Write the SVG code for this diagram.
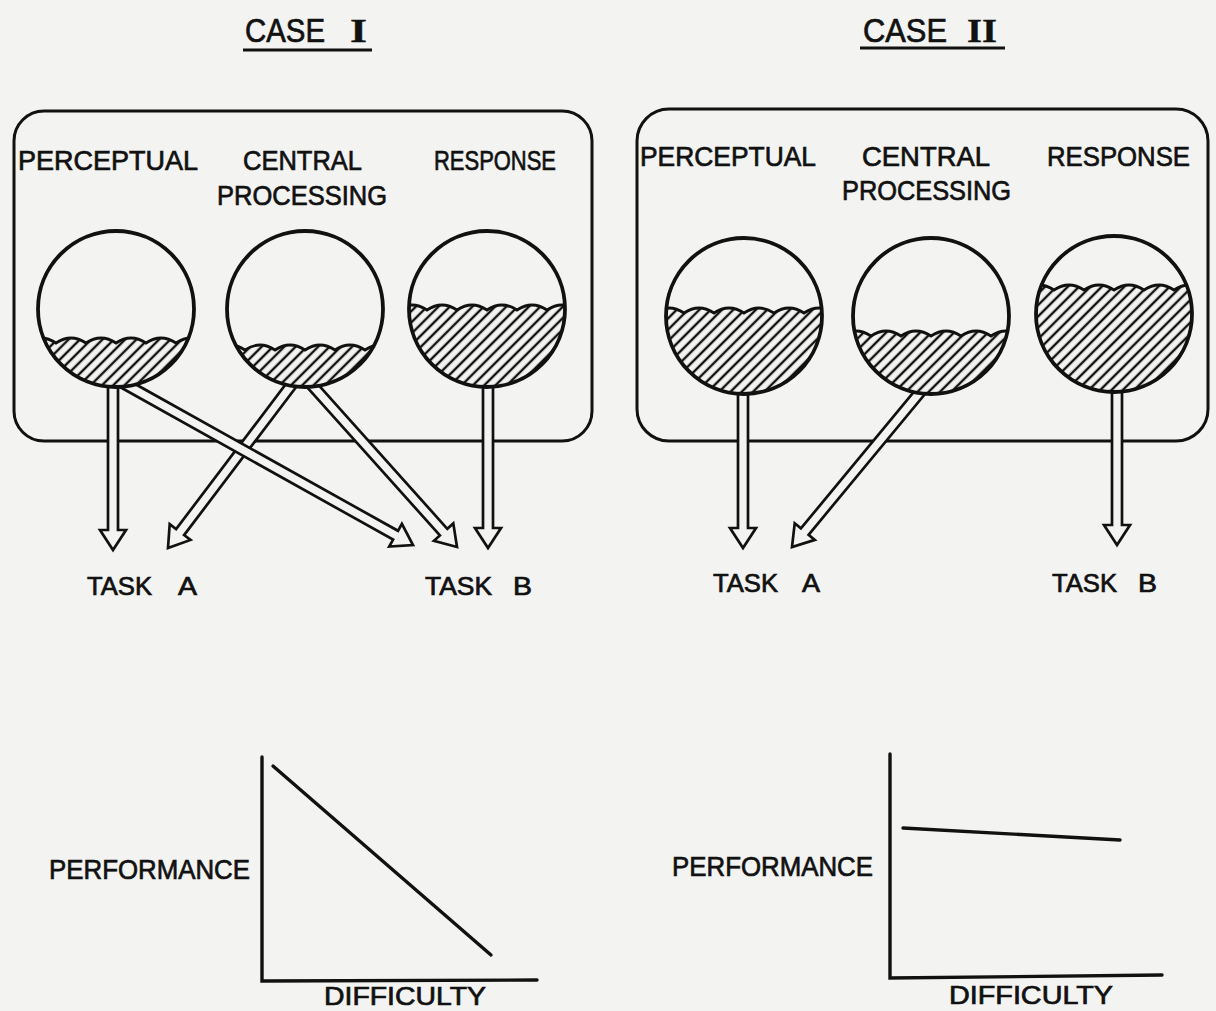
<svg xmlns="http://www.w3.org/2000/svg" width="1216" height="1011" viewBox="0 0 1216 1011">
<style>
.paper{fill:#f3f3f1}
.box{fill:none;stroke:#111;stroke-width:3}
.arrow{fill:#f3f3f1;stroke:#111;stroke-width:2.7;stroke-linejoin:miter}
.bg{fill:#f3f3f1}
.rim{fill:none;stroke:#111;stroke-width:3.8}
.liquid{fill:url(#hatch);stroke:#111;stroke-width:2.8}
.ax{fill:none;stroke:#111;stroke-width:3.4;stroke-linecap:round}
.t{font-family:"Liberation Sans",Arial,sans-serif;fill:#111;stroke:#111;stroke-width:0.7}
.lab{font-size:28px}
.task{font-size:25px}
.hdr{font-size:34px}
.roman{font-family:"Liberation Serif","Times New Roman",serif;font-weight:bold;stroke-width:0.3}
.ul{stroke:#111;stroke-width:3}
</style>
<defs>
<pattern id="hatch" patternUnits="userSpaceOnUse" width="8" height="8" patternTransform="rotate(45)">
<rect width="8" height="8" fill="#f3f3f1"/>
<line x1="4" y1="0" x2="4" y2="8" stroke="#111" stroke-width="2.4"/>
</pattern>
<clipPath id="inCircle"><circle r="78"/></clipPath>
</defs>
<rect class="paper" x="0" y="0" width="1216" height="1011"/>

<g id="headers">
<text class="t hdr" x="245" y="42"><tspan textLength="80" lengthAdjust="spacingAndGlyphs">CASE</tspan> <tspan x="350" class="roman" textLength="17" lengthAdjust="spacingAndGlyphs">I</tspan></text>
<line class="ul" x1="243" y1="50" x2="372" y2="50"/>
<text class="t hdr" x="863" y="42"><tspan textLength="84" lengthAdjust="spacingAndGlyphs">CASE</tspan> <tspan x="967" class="roman" textLength="30" lengthAdjust="spacingAndGlyphs">II</tspan></text>
<line class="ul" x1="860" y1="48" x2="1005" y2="48"/>
</g>

<g id="case1-box">
<rect class="box" x="14" y="111" width="578" height="330" rx="30"/>
<text class="t lab" x="18" y="170" textLength="180" lengthAdjust="spacingAndGlyphs">PERCEPTUAL</text>
<text class="t lab" x="243" y="170" textLength="119" lengthAdjust="spacingAndGlyphs">CENTRAL</text>
<text class="t lab" x="217" y="205" textLength="170" lengthAdjust="spacingAndGlyphs">PROCESSING</text>
<text class="t lab" x="434" y="170" textLength="122" lengthAdjust="spacingAndGlyphs">RESPONSE</text>
</g>

<g id="case2-box">
<rect class="box" x="637" y="109" width="571" height="332" rx="32"/>
<text class="t lab" x="640" y="166" textLength="176" lengthAdjust="spacingAndGlyphs">PERCEPTUAL</text>
<text class="t lab" x="862" y="166" textLength="128" lengthAdjust="spacingAndGlyphs">CENTRAL</text>
<text class="t lab" x="842" y="200" textLength="169" lengthAdjust="spacingAndGlyphs">PROCESSING</text>
<text class="t lab" x="1047" y="166" textLength="143" lengthAdjust="spacingAndGlyphs">RESPONSE</text>
</g>

<g id="connectors">
<polygon class="arrow" points="108,375 108,530 100,530 113,550 126,530 118,530 118,375"/>
<polygon class="arrow" points="303.0,378.0 184.1,535.1 190.5,539.9 168,548 169.7,524.2 176.1,529.1 295.0,372.0"/>
<polygon class="arrow" points="111.9,382.5 393.1,539.6 389.2,546.6 413,545 401.9,523.9 398.0,530.8 116.7,373.7"/>
<polygon class="arrow" points="299.6,378.8 439.9,535.4 433.9,540.8 457,547 453.3,523.4 447.3,528.8 307.0,372.2"/>
<polygon class="arrow" points="483,375 483,528 475,528 488,548 501,528 493,528 493,375"/>
<polygon class="arrow" points="738,380 738,528 730,528 743,548 756,528 748,528 748,380"/>
<polygon class="arrow" points="936.2,380.5 808.6,534.8 814.8,539.9 792,547 794.7,523.3 800.9,528.4 928.5,374.1"/>
<polygon class="arrow" points="1112,375 1112,525 1104,525 1117,545 1130,525 1122,525 1122,375"/>
</g>

<g id="case1-perceptual" transform="translate(116,309)">
<circle r="78" class="bg"/>
<path class="liquid" clip-path="url(#inCircle)" d="M-90 34 q15 -10 30 0 q15 -10 30 0 q15 -10 30 0 q15 -10 30 0 q15 -10 30 0 q15 -10 30 0 L90 95 L-90 95 Z"/>
<circle r="78" class="rim"/>
</g>
<g id="case1-central" transform="translate(305,309)">
<circle r="78" class="bg"/>
<path class="liquid" clip-path="url(#inCircle)" d="M-90 41 q15 -10 30 0 q15 -10 30 0 q15 -10 30 0 q15 -10 30 0 q15 -10 30 0 q15 -10 30 0 L90 95 L-90 95 Z"/>
<circle r="78" class="rim"/>
</g>
<g id="case1-response" transform="translate(487,309)">
<circle r="78" class="bg"/>
<path class="liquid" clip-path="url(#inCircle)" d="M-90 1 q15 -10 30 0 q15 -10 30 0 q15 -10 30 0 q15 -10 30 0 q15 -10 30 0 q15 -10 30 0 L90 95 L-90 95 Z"/>
<circle r="78" class="rim"/>
</g>
<g id="case2-perceptual" transform="translate(744,316)">
<circle r="78" class="bg"/>
<path class="liquid" clip-path="url(#inCircle)" d="M-90 -3 q15 -10 30 0 q15 -10 30 0 q15 -10 30 0 q15 -10 30 0 q15 -10 30 0 q15 -10 30 0 L90 95 L-90 95 Z"/>
<circle r="78" class="rim"/>
</g>
<g id="case2-central" transform="translate(931,316)">
<circle r="78" class="bg"/>
<path class="liquid" clip-path="url(#inCircle)" d="M-90 20 q15 -10 30 0 q15 -10 30 0 q15 -10 30 0 q15 -10 30 0 q15 -10 30 0 q15 -10 30 0 L90 95 L-90 95 Z"/>
<circle r="78" class="rim"/>
</g>
<g id="case2-response" transform="translate(1114,314)">
<circle r="78" class="bg"/>
<path class="liquid" clip-path="url(#inCircle)" d="M-90 -24 q15 -10 30 0 q15 -10 30 0 q15 -10 30 0 q15 -10 30 0 q15 -10 30 0 q15 -10 30 0 L90 95 L-90 95 Z"/>
<circle r="78" class="rim"/>
</g>

<g id="case1-taskA"><text class="t task" y="595"><tspan x="87" textLength="65" lengthAdjust="spacingAndGlyphs">TASK</tspan> <tspan x="178" textLength="19" lengthAdjust="spacingAndGlyphs">A</tspan></text></g>
<g id="case1-taskB"><text class="t task" y="595"><tspan x="425" textLength="67" lengthAdjust="spacingAndGlyphs">TASK</tspan> <tspan x="513" textLength="19" lengthAdjust="spacingAndGlyphs">B</tspan></text></g>
<g id="case2-taskA"><text class="t task" y="592"><tspan x="713" textLength="65" lengthAdjust="spacingAndGlyphs">TASK</tspan> <tspan x="802" textLength="18" lengthAdjust="spacingAndGlyphs">A</tspan></text></g>
<g id="case2-taskB"><text class="t task" y="592"><tspan x="1052" textLength="65" lengthAdjust="spacingAndGlyphs">TASK</tspan> <tspan x="1138" textLength="19" lengthAdjust="spacingAndGlyphs">B</tspan></text></g>

<g id="case1-graph">
<polyline class="ax" points="262,757 262,981 537,980"/>
<line class="ax" x1="273" y1="766" x2="491" y2="955"/>
<text class="t lab" x="49" y="879" textLength="201" lengthAdjust="spacingAndGlyphs">PERFORMANCE</text>
<text class="t task" x="324" y="1005" textLength="162" lengthAdjust="spacingAndGlyphs">DIFFICULTY</text>
</g>
<g id="case2-graph">
<polyline class="ax" points="890,754 890,978 1162,975"/>
<line class="ax" x1="903" y1="828" x2="1120" y2="840"/>
<text class="t lab" x="672" y="876" textLength="201" lengthAdjust="spacingAndGlyphs">PERFORMANCE</text>
<text class="t task" x="949" y="1004" textLength="164" lengthAdjust="spacingAndGlyphs">DIFFICULTY</text>
</g>
</svg>
